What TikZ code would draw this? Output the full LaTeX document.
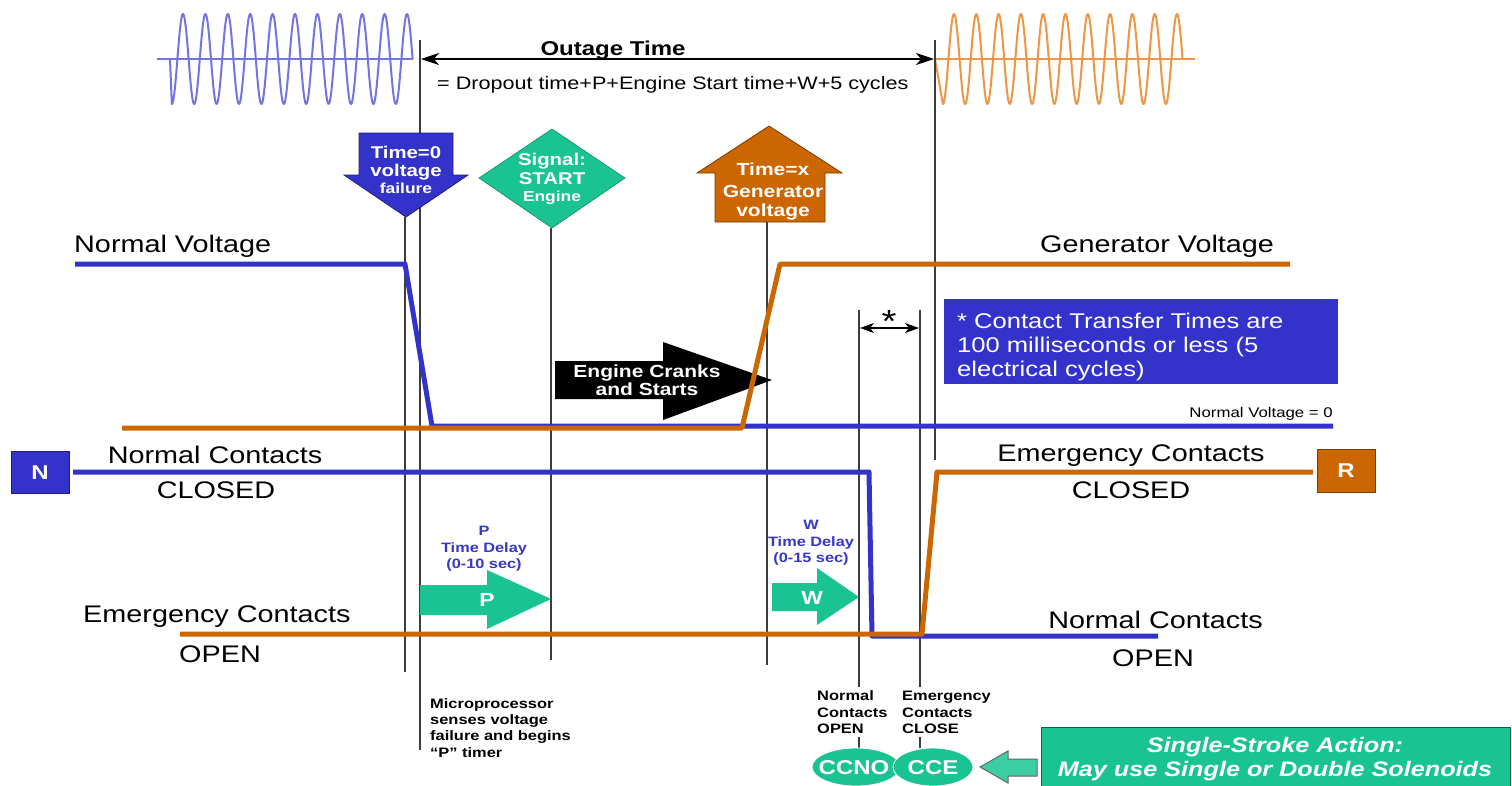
\documentclass[tikz,border=0pt]{standalone}
\usepackage{fontspec}
\setmainfont{Liberation Sans}[FakeStretch=1.2]
\usetikzlibrary{arrows.meta,shapes.geometric}
\definecolor{vblue}{RGB}{51,51,204}
\definecolor{vorange}{RGB}{204,102,0}
\definecolor{tealg}{RGB}{26,196,146}
\definecolor{wblue}{RGB}{115,115,225}
\definecolor{worange}{RGB}{238,150,70}
\definecolor{gline}{RGB}{60,60,60}
\definecolor{ptext}{RGB}{55,55,200}
\newcommand\fsz[1]{\fontsize{#1}{#1}\selectfont}
\tikzset{
  guide/.style={draw=gline, line width=1.3},
  bigline/.style={line width=5, line join=round},
  lbl/.style={inner sep=0, anchor=base, font=\fsz{24}},
  lblw/.style={lbl, anchor=base west},
  lble/.style={lbl, anchor=base east},
  wtxt/.style={inner sep=0, anchor=base, text=white, font=\bfseries\fsz{17}},
  smallb/.style={inner sep=0, anchor=base west, font=\bfseries\fsz{13.7}},
  ptxt/.style={inner sep=0, anchor=base, text=ptext, font=\bfseries\fsz{13.6}},
  stl/.tip={Stealth[length=18,width=12,inset=5]},
  stm/.tip={Stealth[length=14,width=10,inset=4]},
}
\begin{document}
\begin{tikzpicture}[x=1pt,y=-1pt]
\useasboundingbox (0,0) rectangle (1512,785);
\fill[white] (0,0) rectangle (1512,785);

% ---- sine waves
\draw[wblue, line width=1.3] (157,59) -- (413,59);
\draw[wblue, line width=2, line join=round] (170,59) -- plot[domain=171.8:412.6, samples=400] (\x,{59-45*cos((\x-183)/22.4*360)});
\draw[worange, line width=1.3] (935,59) -- (1195,59);
\draw[worange, line width=2, line join=round] (935,59) -- plot[domain=942.85:1182.6, samples=400] (\x,{59-45*cos((\x-954)/22.3*360)});

% ---- guide lines
\coordinate (g1t) at (405,217); \coordinate (g1b) at (405,672);
\coordinate (g2t) at (420,40);  \coordinate (g2b) at (420,750);
\coordinate (g3t) at (551,228); \coordinate (g3b) at (551,660);
\coordinate (g4t) at (767,222); \coordinate (g4b) at (767,665);
\coordinate (g5t) at (859,310); \coordinate (g5b) at (859,687);
\coordinate (g6t) at (920,310); \coordinate (g6b) at (920,687);
\coordinate (g7t) at (935,40);  \coordinate (g7b) at (935,460);
\foreach \n in {1,...,7} {\draw[guide] (g\n t) -- (g\n b);}
\draw[guide] (859,737) -- (859,748);
\draw[guide] (920,737) -- (920,748);

% ---- outage arrow
\draw[line width=1.3, stl-stl] (421,59) -- (934,59);
\node[inner sep=0, anchor=base, font=\bfseries\fsz{20}] (outage) at (613,55) {Outage Time};
\node[inner sep=0, anchor=base west, font=\fsz{18}] (formula) at (437,89) {= Dropout time+P+Engine Start time+W+5 cycles};

% ---- down arrow (time=0)
\filldraw[fill=vblue, draw=vblue!60!black, line width=0.8]
  (359,133) -- (453,133) -- (453,175) -- (468,175) -- (406,217) -- (344,175) -- (359,175) -- cycle;
\node[wtxt] (t0a) at (406,158) {Time=0};
\node[wtxt] (t0b) at (406,176) {voltage};
\node[wtxt, font=\bfseries\fsz{14.5}] (t0c) at (406,193) {failure};

% ---- diamond
\filldraw[fill=tealg, draw=tealg!70!black, line width=0.6]
  (552,129) -- (625,178) -- (552,228) -- (479,178) -- cycle;
\node[wtxt] (sg1) at (552,165) {Signal:};
\node[wtxt] (sg2) at (552,184) {START};
\node[wtxt, font=\bfseries\fsz{14.5}] (sg3) at (552,201) {Engine};

% ---- up arrow (time=x)
\filldraw[fill=vorange, draw=vorange!60!black, line width=0.8]
  (769,126) -- (842,173) -- (825,173) -- (825,222) -- (715,222) -- (715,173) -- (697,173) -- cycle;
\node[wtxt, font=\bfseries\fsz{17.5}] (tx1) at (773,175) {Time=x};
\node[wtxt, font=\bfseries\fsz{17.5}] (tx2) at (773,197) {Generator};
\node[wtxt, font=\bfseries\fsz{17.5}] (tx3) at (773,216) {voltage};

% ---- black arrow
\fill[black] (555,361) -- (663,361) -- (663,342) -- (772,380) -- (663,420) -- (663,399) -- (555,399) -- cycle;
\node[wtxt, font=\bfseries\fsz{17.5}] (ec1) at (647,377) {Engine Cranks};
\node[wtxt, font=\bfseries\fsz{17.5}] (ec2) at (647,395) {and Starts};

% ---- voltage lines
\draw[vblue, bigline] (75,264) -- (405,264) -- (432,426) -- (1333,426);
\draw[vorange, bigline] (122,428) -- (742,428) -- (780,264) -- (1290,264);
% ---- contact lines
\draw[vblue, bigline] (73,472) -- (869,472) -- (872,636) -- (1158,636);
\draw[vorange, bigline] (180,634) -- (922,634) -- (937,472) -- (1313,472);

% ---- labels
\node[lblw] (nv) at (74,252) {Normal Voltage};
\node[lblw] (gv) at (1040,252) {Generator Voltage};
\node[lble, font=\fsz{14}] (nv0) at (1333,417) {Normal Voltage = 0};
\node[lbl] (nc1) at (215,463) {Normal Contacts};
\node[lbl] (nc2) at (216,498) {CLOSED};
\node[lbl] (ec3) at (1131,461) {Emergency Contacts};
\node[lbl] (ec4) at (1131,498) {CLOSED};
\node[lblw] (eo1) at (83,622) {Emergency Contacts};
\node[lblw] (eo2) at (179,662) {OPEN};
\node[lble] (no1) at (1263,628) {Normal Contacts};
\node[lbl] (no2) at (1153,666) {OPEN};

% ---- N and R boxes
\filldraw[fill=vblue, draw=vblue!60!black, line width=0.8] (11,451) rectangle (69,493);
\node[wtxt, font=\bfseries\fsz{20}] (N) at (40,479) {N};
\filldraw[fill=vorange, draw=vorange!60!black, line width=0.8] (1317,449) rectangle (1375,492);
\node[wtxt, font=\bfseries\fsz{20}] (R) at (1346,477) {R};

% ---- transfer time box
\fill[vblue] (944,299) rectangle (1338,384);
\node[inner sep=0, anchor=base west, text=white, font=\fsz{21.3}] (bx1) at (957,328) {* Contact Transfer Times are};
\node[inner sep=0, anchor=base west, text=white, font=\fsz{21.3}] (bx2) at (957,352) {100 milliseconds or less (5};
\node[inner sep=0, anchor=base west, text=white, font=\fsz{21.3}] (bx3) at (957,376) {electrical cycles)};
\draw[line width=1.3, stm-stm] (860,328) -- (919,328);
\node[inner sep=0, anchor=base, font=\fsz{32}] (ast) at (889,332) {*};

% ---- P delay
\node[ptxt] (p1) at (484,535) {P};
\node[ptxt] (p2) at (484,552) {Time Delay};
\node[ptxt] (p3) at (484,568) {(0-10 sec)};
\fill[tealg] (420,585) -- (487,585) -- (487,570) -- (551,599) -- (487,629) -- (487,615) -- (420,615) -- cycle;
\node[wtxt, font=\bfseries\fsz{19}] (pa) at (487,606) {P};

% ---- W delay
\node[ptxt] (w1) at (811,529) {W};
\node[ptxt] (w2) at (811,546) {Time Delay};
\node[ptxt] (w3) at (811,562) {(0-15 sec)};
\fill[tealg] (772,583) -- (817,583) -- (817,568) -- (859,597) -- (817,625) -- (817,611) -- (772,611) -- cycle;
\node[wtxt, font=\bfseries\fsz{19}] (wa) at (812,604) {W};

% ---- bottom texts
\node[smallb] (m1) at (430,708) {Microprocessor};
\node[smallb] (m2) at (430,724) {senses voltage};
\node[smallb] (m3) at (430,740) {failure and begins};
\node[smallb] (m4) at (430,757) {“P” timer};
\node[smallb] (n1) at (817,700) {Normal};
\node[smallb] (n2) at (817,717) {Contacts};
\node[smallb] (n3) at (817,733) {OPEN};
\node[smallb] (e1) at (902,700) {Emergency};
\node[smallb] (e2) at (902,717) {Contacts};
\node[smallb] (e3) at (902,733) {CLOSE};

% ---- CCNO / CCE
\filldraw[fill=tealg, draw=white, line width=0.8] (856,767) ellipse [x radius=44, y radius=19];
\filldraw[fill=tealg, draw=white, line width=0.8] (933,767) ellipse [x radius=40, y radius=19];
\node[wtxt, font=\bfseries\fsz{20}] (ccno) at (854,774) {CCNO};
\node[wtxt, font=\bfseries\fsz{20}] (cce) at (933,774) {CCE};

% ---- hollow arrow and box
\filldraw[fill=tealg!85!white, draw=gray!80!black, line width=1]
  (980,767) -- (1008,751) -- (1008,759) -- (1037,759) -- (1037,776) -- (1008,776) -- (1008,783) -- cycle;
\filldraw[fill=tealg, draw=tealg!50!black, line width=1] (1041,727) rectangle (1510,790);
\node[inner sep=0, anchor=base, text=white, font=\bfseries\itshape\fsz{21}] (ss1) at (1275,752) {Single-Stroke Action:};
\node[inner sep=0, anchor=base, text=white, font=\bfseries\itshape\fsz{21}] (ss2) at (1275,776) {May use Single or Double Solenoids};
\end{tikzpicture}
\end{document}
